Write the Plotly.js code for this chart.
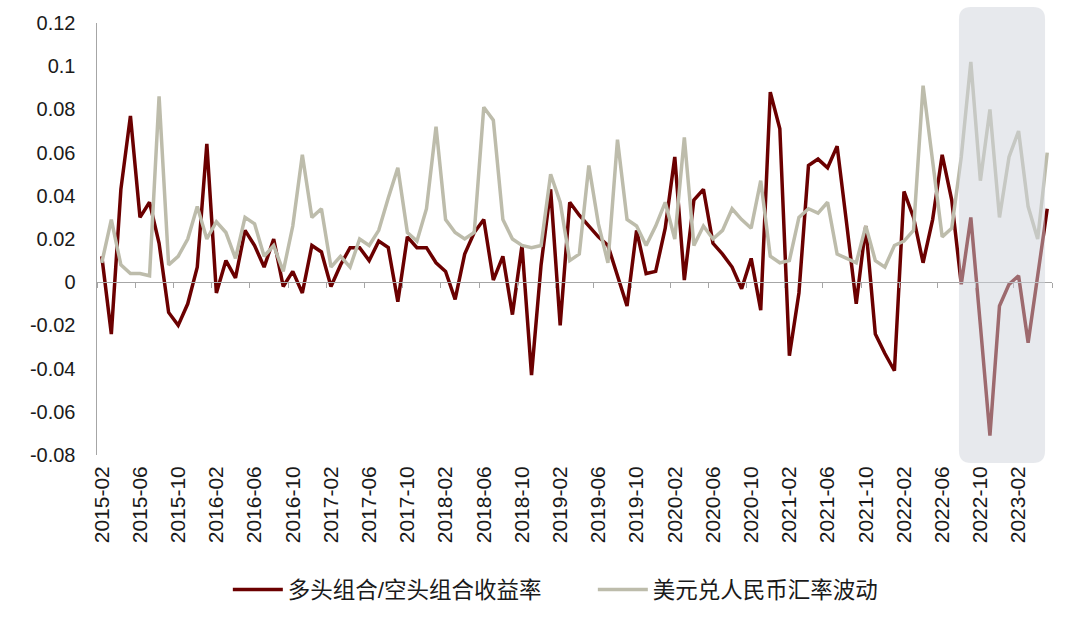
<!DOCTYPE html>
<html>
<head>
<meta charset="utf-8">
<script src="https://cdn.plot.ly/plotly-3.0.1.min.js"></script>
<style>
  html, body { margin: 0; padding: 0; background: #fff; }
  #chart { width: 1080px; height: 629px; }
</style>
</head>
<body>
<div id="chart"></div>
<script>
// monthly series, 2015-02 .. 2023-05
const START_YEAR = 2015;
const START_MONTH = 2;
const N_MONTHS = 100;

const longShortReturn = [
  0.012, -0.024, 0.043, 0.077, 0.030, 0.037, 0.018, -0.014, -0.020, -0.010,
  0.007, 0.064, -0.005, 0.010, 0.002, 0.024, 0.017, 0.007, 0.020, -0.002,
  0.005, -0.005, 0.017, 0.014, -0.002, 0.008, 0.016, 0.016, 0.010, 0.019,
  0.016, -0.009, 0.021, 0.016, 0.016, 0.009, 0.005, -0.008, 0.013, 0.023,
  0.029, 0.001, 0.012, -0.015, 0.017, -0.043, 0.008, 0.043, -0.020, 0.037,
  0.031, 0.026, 0.021, 0.017, 0.003, -0.011, 0.024, 0.004, 0.005, 0.025,
  0.058, 0.001, 0.038, 0.043, 0.018, 0.013, 0.007, -0.003, 0.011, -0.013,
  0.088, 0.071, -0.034, -0.005, 0.054, 0.057, 0.053, 0.063, 0.027, -0.010,
  0.026, -0.024, -0.033, -0.041, 0.042, 0.030, 0.009, 0.029, 0.059, 0.038,
  -0.001, 0.030, -0.020, -0.071, -0.011, -0.001, 0.003, -0.028, 0.003, 0.034,
];

const usdCnyVol = [
  0.009, 0.029, 0.008, 0.004, 0.004, 0.003, 0.086, 0.008, 0.012, 0.020,
  0.035, 0.020, 0.028, 0.023, 0.011, 0.030, 0.027, 0.012, 0.017, 0.005,
  0.026, 0.059, 0.030, 0.034, 0.007, 0.012, 0.007, 0.020, 0.017, 0.024,
  0.039, 0.053, 0.023, 0.019, 0.034, 0.072, 0.029, 0.023, 0.020, 0.023,
  0.081, 0.075, 0.029, 0.020, 0.017, 0.016, 0.017, 0.050, 0.037, 0.010,
  0.013, 0.054, 0.027, 0.009, 0.066, 0.029, 0.026, 0.017, 0.026, 0.037,
  0.020, 0.067, 0.017, 0.026, 0.020, 0.024, 0.034, 0.029, 0.025, 0.047,
  0.012, 0.009, 0.010, 0.030, 0.034, 0.032, 0.037, 0.013, 0.011, 0.009,
  0.026, 0.010, 0.007, 0.017, 0.019, 0.024, 0.091, 0.057, 0.021, 0.025,
  0.058, 0.102, 0.047, 0.080, 0.030, 0.058, 0.070, 0.035, 0.020, 0.060,
];

const xTickLabels = [
  "2015-02", "2015-06", "2015-10", "2016-02", "2016-06", "2016-10",
  "2017-02", "2017-06", "2017-10", "2018-02", "2018-06", "2018-10",
  "2019-02", "2019-06", "2019-10", "2020-02", "2020-06", "2020-10",
  "2021-02", "2021-06", "2021-10", "2022-02", "2022-06", "2022-10",
  "2023-02",
];

const yTickVals = [0.12, 0.1, 0.08, 0.06, 0.04, 0.02, 0, -0.02, -0.04, -0.06, -0.08];
const yTickText = ["0.12", "0.1", "0.08", "0.06", "0.04", "0.02", "0", "-0.02", "-0.04", "-0.06", "-0.08"];

const seriesNames = ["多头组合/空头组合收益率", "美元兑人民币汇率波动"];

const RED = "#6b0000";
const GRAY = "#bdbcab";
const AXIS = "#a6a6a6";
const FONT = 'Liberation Sans, Arial, "Noto Sans CJK SC", sans-serif';

const months = [];
for (let i = 0; i < N_MONTHS; i++) {
  const m = START_MONTH - 1 + i;
  const y = START_YEAR + Math.floor(m / 12);
  months.push(`${y}-${String((m % 12) + 1).padStart(2, "0")}`);
}

// ticks sit on category boundaries every 4 months, along the zero line
const boundaryTicks = [];
for (let b = -0.5; b <= N_MONTHS - 0.5; b += 4) boundaryTicks.push(b);
boundaryTicks.push(N_MONTHS - 0.5);

const traces = [
  {
    x: months, y: longShortReturn, name: seriesNames[0],
    type: "scatter", mode: "lines",
    line: { color: RED, width: 3.5 },
  },
  {
    x: months, y: usdCnyVol, name: seriesNames[1],
    type: "scatter", mode: "lines",
    line: { color: GRAY, width: 3.5 },
  },
  {
    // carrier for the zero-line tick axis
    x: [-0.5, N_MONTHS - 0.5], y: [null, null],
    xaxis: "x2", yaxis: "y", mode: "lines",
    showlegend: false, hoverinfo: "skip",
  },
];

// highlighted last stretch, rounded corners, paper coords
const W = 955, H = 432, R = 12;
const hx0 = 0.9026, hx1 = 0.9927, hy0 = -0.0185, hy1 = 1.037;
const rx = R / W, ry = R / H;
const hlPath =
  `M${hx0 + rx},${hy1} L${hx1 - rx},${hy1} Q${hx1},${hy1} ${hx1},${hy1 - ry} ` +
  `L${hx1},${hy0 + ry} Q${hx1},${hy0} ${hx1 - rx},${hy0} ` +
  `L${hx0 + rx},${hy0} Q${hx0},${hy0} ${hx0},${hy0 + ry} ` +
  `L${hx0},${hy1 - ry} Q${hx0},${hy1} ${hx0 + rx},${hy1} Z`;

const layout = {
  width: 1080,
  height: 629,
  paper_bgcolor: "#ffffff",
  plot_bgcolor: "#ffffff",
  font: { family: FONT, color: "#1a1a1a", size: 20 },
  margin: { l: 97, r: 28, t: 23, b: 174, autoexpand: false },
  xaxis: {
    type: "category",
    range: [-0.5, N_MONTHS - 0.5],
    tickmode: "array",
    tickvals: xTickLabels,
    ticktext: xTickLabels,
    tickangle: -90,
    ticks: "",
    showline: false,
    showgrid: false,
    zeroline: false,
    ticklabelstandoff: 6,
    tickfont: { size: 21, family: FONT, color: "#1a1a1a" },
  },
  xaxis2: {
    overlaying: "x",
    anchor: "free",
    position: 0.4,
    type: "linear",
    range: [-0.5, N_MONTHS - 0.5],
    tickmode: "array",
    tickvals: boundaryTicks,
    showticklabels: false,
    ticks: "outside",
    ticklen: 5,
    tickcolor: AXIS,
    tickwidth: 1,
    showline: true,
    linecolor: AXIS,
    linewidth: 1,
    showgrid: false,
    zeroline: false,
  },
  yaxis: {
    range: [-0.08, 0.12],
    tickmode: "array",
    tickvals: yTickVals,
    ticktext: yTickText,
    ticks: "",
    showline: true,
    linecolor: AXIS,
    linewidth: 1.5,
    showgrid: false,
    zeroline: false,
    ticklabelstandoff: 16,
    tickfont: { size: 20, family: FONT, color: "#1a1a1a" },
  },
  legend: {
    orientation: "h",
    x: 0.137,
    xanchor: "left",
    y: -0.312,
    yanchor: "middle",
    font: { size: 22.5, family: FONT, color: "#1a1a1a" },
    itemwidth: 50,
    entrywidth: 300,
    entrywidthmode: "pixels",
    tracegroupgap: 0,
  },
  showlegend: true,
  shapes: [
    {
      type: "path",
      xref: "paper",
      yref: "paper",
      path: hlPath,
      fillcolor: "rgba(208,211,220,0.5)",
      line: { width: 0 },
      layer: "above",
    },
  ],
};

Plotly.newPlot("chart", traces, layout, { displayModeBar: false, staticPlot: true });
</script>
</body>
</html>
